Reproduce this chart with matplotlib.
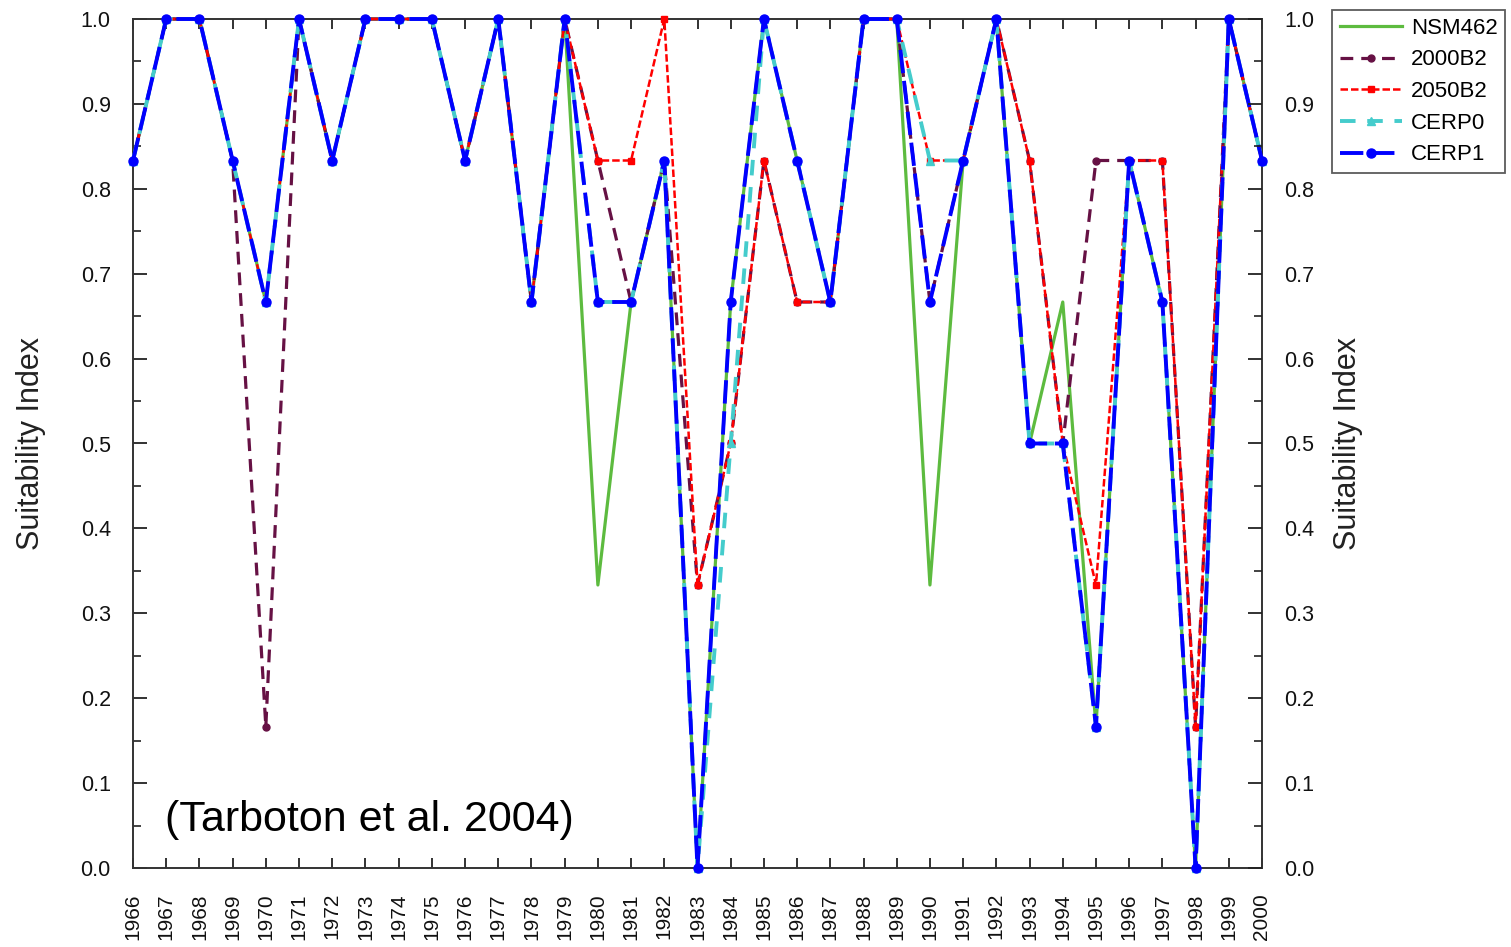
import matplotlib
matplotlib.use("Agg")
import matplotlib.pyplot as plt
from matplotlib.ticker import MultipleLocator, FormatStrFormatter

plt.rcParams['font.family'] = ['Liberation Sans', 'DejaVu Sans']

years = list(range(1966, 2001))
s = 1/6
nsm462 = [5*s, 1, 1, 5*s, 4*s, 1, 5*s, 1, 1, 1, 5*s, 1, 4*s, 1, 2*s, 4*s, 5*s, 0,
          4*s, 1, 5*s, 4*s, 1, 1, 2*s, 5*s, 1, 3*s, 4*s, 1*s, 5*s, 4*s, 0, 1, 5*s]
b2000 = [5*s, 1, 1, 5*s, 1*s, 1, 5*s, 1, 1, 1, 5*s, 1, 4*s, 1, 5*s, 4*s, 5*s, 2*s,
         3*s, 5*s, 4*s, 4*s, 1, 1, 4*s, 5*s, 1, 5*s, 3*s, 5*s, 5*s, 5*s, 1*s, 1, 5*s]
b2050 = [5*s, 1, 1, 5*s, 4*s, 1, 5*s, 1, 1, 1, 5*s, 1, 4*s, 1, 5*s, 5*s, 1, 2*s,
         3*s, 5*s, 4*s, 4*s, 1, 1, 5*s, 5*s, 1, 5*s, 3*s, 2*s, 5*s, 5*s, 1*s, 1, 5*s]
cerp0 = [5*s, 1, 1, 5*s, 4*s, 1, 5*s, 1, 1, 1, 5*s, 1, 4*s, 1, 4*s, 4*s, 5*s, 0,
         3*s, 1, 5*s, 4*s, 1, 1, 5*s, 5*s, 1, 3*s, 3*s, 1*s, 5*s, 4*s, 0, 1, 5*s]
cerp1 = [5*s, 1, 1, 5*s, 4*s, 1, 5*s, 1, 1, 1, 5*s, 1, 4*s, 1, 4*s, 4*s, 5*s, 0,
         4*s, 1, 5*s, 4*s, 1, 1, 4*s, 5*s, 1, 3*s, 3*s, 1*s, 5*s, 4*s, 0, 1, 5*s]

W, H = 1511, 947
fig = plt.figure(figsize=(W/100, H/100), dpi=100)
fig.patch.set_facecolor('white')
L, R, T, B = 133, 1262, 19, 868
ax = fig.add_axes([L/W, 1-B/H, (R-L)/W, (B-T)/H])
ax2 = ax.twinx()

ax.plot(years, nsm462, color='#5DBB3F', lw=2.3, ls='-', label='NSM462', clip_on=False, zorder=3)
ax.plot(years, b2000, color='#661144', lw=2.3, ls=(0, (4, 2.5)), marker='o', ms=5,
        label='2000B2', clip_on=False, zorder=4)
ax.plot(years, b2050, color='#FF0000', lw=1.8, ls=(0, (3, 1.2)), marker='s', ms=5,
        label='2050B2', clip_on=False, zorder=5)
ax.plot(years, cerp0, color='#44CCCC', lw=2.8, ls=(0, (4, 3)), marker='^', ms=6,
        label='CERP0', clip_on=False, zorder=6)
ax.plot(years, cerp1, color='#0000FF', lw=2.8, ls=(0, (6, 2)), marker='o', ms=6.5,
        label='CERP1', clip_on=False, zorder=7)

ax.set_xlim(1966, 2000)
ax.set_ylim(0, 1)
ax.set_xticks(years)
ax.set_xticklabels([str(y) for y in years], rotation=90, fontsize=15)
ax.tick_params(axis='x', direction='in', top=True, bottom=True, length=7, width=1.3,
               pad=18, colors='#222222', labelcolor='#111111')

for a, side in ((ax, 'left'), (ax2, 'right')):
    a.set_ylim(0, 1)
    a.yaxis.set_major_locator(MultipleLocator(0.1))
    a.yaxis.set_minor_locator(MultipleLocator(0.05))
    a.yaxis.set_major_formatter(FormatStrFormatter('%.1f'))
    a.tick_params(axis='y', which='major', direction='in', length=10, width=1.3, pad=16,
                  labelsize=15.5, colors='#222222', labelcolor='#111111')
    a.tick_params(axis='y', which='minor', direction='in', length=6, width=1.2,
                  colors='#222222')
    a.set_ylabel('Suitability Index', fontsize=22, color='#222222',
                 labelpad=25 if side == 'left' else 13)

for sp in ax.spines.values():
    sp.set_linewidth(1.4)
    sp.set_color('#333333')
for sp in ax2.spines.values():
    sp.set_visible(False)

ax.text(0.028, 0.0565, '(Tarboton et al. 2004)', transform=ax.transAxes,
        fontsize=31, va='center', ha='left', color='black')

leg = fig.legend(*ax.get_legend_handles_labels(), loc='upper left',
                 bbox_to_anchor=(1332/W, 1-10/H), fontsize=16, frameon=True,
                 fancybox=False, edgecolor='#333333', handlelength=2.8,
                 labelspacing=0.48, borderpad=0.35, handletextpad=0.4,
                 borderaxespad=0)
leg.get_frame().set_linewidth(1.3)

fig.savefig('out.png', dpi=100)
